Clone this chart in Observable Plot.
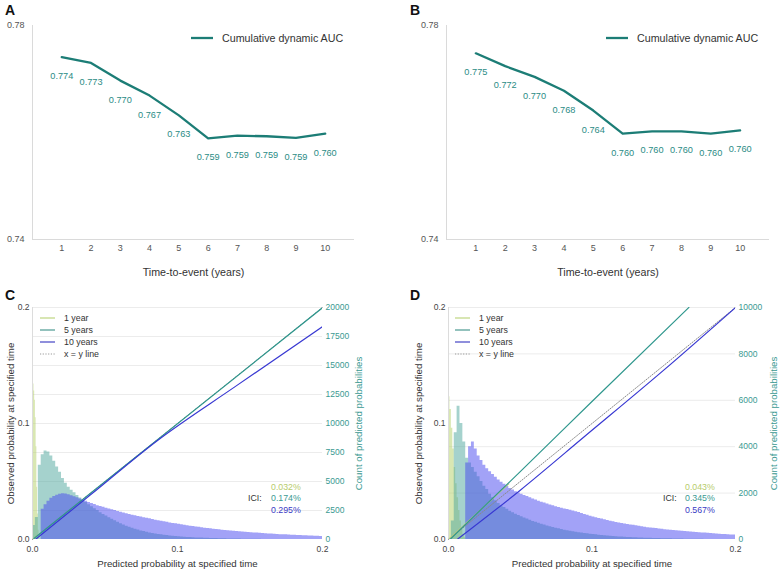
<!DOCTYPE html>
<html><head><meta charset="utf-8">
<script src="https://cdn.jsdelivr.net/npm/d3@7"></script>
<script src="https://cdn.jsdelivr.net/npm/@observablehq/plot@0.6"></script>
<style>
body{margin:0;background:#fff;font-family:"Liberation Sans",Arial,sans-serif;}
#root{position:relative;width:780px;height:572px;overflow:hidden;background:#fff;}
.panel{position:absolute;}
.lbl{position:absolute;font-weight:bold;font-size:14px;color:#111;line-height:1;}
.t{position:absolute;white-space:nowrap;line-height:1;transform:translateY(-50%);}
.sw{position:absolute;}
</style></head><body><div id="root"></div>
<script>
// ---------- data ----------
const years = [1,2,3,4,5,6,7,8,9,10];
const aucA = [0.7741,0.7730,0.7697,0.7669,0.7632,0.7589,0.7594,0.7593,0.7590,0.7598];
const aucB = [0.7748,0.7724,0.7704,0.7678,0.7641,0.7598,0.7602,0.7602,0.7598,0.7604];
const aucTicks = [0.74, 0.78];
const probTicks = [0, 0.1, 0.2];
const countTicksC = [0,2500,5000,7500,10000,12500,15000,17500,20000];
const countTicksD = [0,2000,4000,6000,8000,10000];
const seriesNames = ["1 year","5 years","10 years","x = y line"];
const iciC = ["0.032%","0.174%","0.295%"];
const iciD = ["0.043%","0.345%","0.567%"];

// histogram bin widths (probability units)
const binC1 = 0.0005, binD1 = 0.001, binW = 0.002;
// counts per bin, panel C
const histC1 = [13600,13400,12800,12000,10500,8000,4500,2200,800];
const histC5 = [1200,1900,6400,7300,7630,7550,7200,6750,6250,5800,5250,4850,4500,4250,4020,3800,3580,3370,3180,3000,2820,2650,2490,2300,2160,2020,1880,1750,1620,1480,1360,1250,1150,1050,960,880,810,740,680,620,570,520,475,435,400,365,335,305,280,255,235,215,195,180,165,150,140,130,120,110,100,92,84,76,70,64,58,53,48,44,40,36,32,28,25,22,19,16,13,10,8,6,4,3];
const histC10 = [0,0,0,2600,3000,3300,3550,3700,3820,3900,3940,3920,3860,3780,3690,3600,3500,3400,3300,3200,3100,3010,2920,2840,2770,2700,2640,2560,2490,2420,2350,2290,2220,2160,2100,2040,1990,1930,1880,1830,1780,1720,1670,1620,1570,1520,1480,1430,1390,1350,1310,1270,1230,1190,1150,1110,1080,1050,1010,980,950,920,890,860,830,800,780,750,730,710,690,670,650,630,610,590,570,550,530,510,500,480,470,450,440,420,410,400,390,375,365,350,340,330,320,305,295,285,275,265];
// counts per bin, panel D
const histD1 = [6150,5600,4800,3900,3100,2400,1800,1250,800,450,220,80];
const histD5 = [0,800,4600,5740,5000,4200,3500,3300,3100,2900,2700,2500,2300,2150,1950,1800,1670,1550,1440,1380,1300,1220,1150,1090,1030,980,930,880,830,780,740,700,660,620,580,550,520,490,460,430,400,380,355,335,315,295,275,260,245,230,215,200,185,170,160,150,140,130,120,112,105,98,90,84,78,72,67,62,58,54,50,46,43,40,37,34,31,28,25,22,20,18,16,14,12,10,8,7,6,5];
const histD10 = [0,0,0,0,0,0,3300,4000,4200,3900,3600,3400,3200,3050,2920,2800,2680,2570,2470,2380,2280,2200,2130,2060,2000,1950,1900,1850,1800,1750,1700,1650,1610,1570,1530,1490,1450,1410,1380,1350,1320,1290,1260,1230,1200,1160,1120,1080,1040,1000,970,940,910,880,850,820,790,760,730,710,690,670,650,630,610,590,570,550,530,510,495,480,470,455,440,425,410,400,390,375,365,355,345,335,325,315,305,295,285,275,265,255,245,235,225,220,212,205,198,190];

// calibration curves (predicted x, observed y)
const calC1x = [0, 0.003], calC1y = [0, 0.003];
const calC5x = [0.001, 0.2], calC5y = [0.0009, 0.1998];
const calC10x = [0.002, 0.04, 0.086, 0.14, 0.2], calC10y = [0.0, 0.0385, 0.0852, 0.132, 0.1835];
const calD1x = [0, 0.042], calD1y = [0, 0.048];
const calD5x = [0.001, 0.05, 0.1, 0.1675], calD5y = [0.0, 0.0585, 0.119, 0.2];
const calD10x = [0.006, 0.05, 0.095, 0.15, 0.2], calD10y = [0.0, 0.0425, 0.089, 0.146, 0.2];
const diagX = [0, 0.2], diagY = [0, 0.2];

// ---------- styling ----------
const FONT = "Liberation Sans, Arial, sans-serif";
const aucColor = "#1c7d76", aucText = "#2b8b85";
const c1 = "#b3cf66", c5 = "#4ba59c", c10 = "#4646f0";
const l1 = "#b9c97e", l5 = "#2f978d", l10 = "#3838d2";
const tealText = "#3b9a92";
const iciColors = ["#b7cc6c", "#3b9a92", "#3a3ac4"];
const legendColors = ["#cfe0a0", "#79b3ad", "#7474d4", "#999"];

const root = document.getElementById("root");
function place(node, left, top) {
  const d = document.createElement("div");
  d.className = "panel"; d.style.left = left + "px"; d.style.top = top + "px";
  d.appendChild(node); root.appendChild(d); return d;
}
function html(cls, text, left, top, css) {
  const s = document.createElement("div");
  s.className = cls; s.textContent = text;
  s.style.left = left + "px"; s.style.top = top + "px";
  Object.assign(s.style, css || {});
  root.appendChild(s); return s;
}
function swatch(left, top, w, color, thick, dash) {
  const ns = "http://www.w3.org/2000/svg";
  const svg = document.createElementNS(ns, "svg");
  svg.setAttribute("width", w); svg.setAttribute("height", 6);
  svg.setAttribute("class", "sw");
  svg.style.left = left + "px"; svg.style.top = (top - 3) + "px"; svg.style.position = "absolute";
  const ln = document.createElementNS(ns, "line");
  ln.setAttribute("x1", 0); ln.setAttribute("x2", w); ln.setAttribute("y1", 3); ln.setAttribute("y2", 3);
  ln.setAttribute("stroke", color); ln.setAttribute("stroke-width", thick);
  if (dash) ln.setAttribute("stroke-dasharray", dash);
  svg.appendChild(ln); root.appendChild(svg);
}

// ---------- panels A & B ----------
function aucPanel(vals, mL, mR) {
  const data = years.map((t, i) => ({t, v: vals[i]}));
  return Plot.plot({
    width: 390, height: 285, marginLeft: mL, marginRight: mR, marginTop: 25, marginBottom: 46,
    style: {background: "transparent", fontFamily: FONT, overflow: "visible"},
    x: {domain: [0, 11]}, y: {domain: [0.74, 0.78]},
    marks: [
      Plot.ruleX([0], {stroke: "#dadada"}),
      Plot.ruleY([0.74], {stroke: "#dadada"}),
      Plot.axisY(aucTicks, {tickSize: 0, tickPadding: 8, tickFormat: d3.format(".2f"), fontSize: 9, color: "#555", label: null}),
      Plot.axisX(years, {tickSize: 0, tickPadding: 5, fontSize: 9, color: "#555", label: null}),
      Plot.text(["Time-to-event (years)"], {text: d => d, frameAnchor: "bottom", dy: 36, fontSize: 10.7, fill: "#333"}),
      Plot.line(data, {x: "t", y: "v", stroke: aucColor, strokeWidth: 2.3}),
      Plot.text(data, {x: "t", y: "v", text: d => d3.format(".3f")(d.v), dy: 19, fontSize: 9.2, fill: aucText})
    ]
  });
}
place(aucPanel(aucA, 32, 36), 0, 0);
place(aucPanel(aucB, 56, 11), 390, 0);
html("lbl", "A", 5, 3);
html("lbl", "B", 410, 3);
swatch(191, 38, 22, aucColor, 2.3);
html("t", "Cumulative dynamic AUC", 222, 38, {fontSize: "10.7px", color: "#333"});
swatch(606, 38, 22, aucColor, 2.3);
html("t", "Cumulative dynamic AUC", 637, 38, {fontSize: "10.7px", color: "#333"});

// ---------- panels C & D ----------
function steps(counts, w) {
  const pts = counts.map((c, i) => ({x: i * w, c}));
  pts.push({x: counts.length * w, c: counts[counts.length - 1]});
  return pts;
}
function pts(xs, ys) { return xs.map((x, i) => ({x, y: ys[i]})); }

function histPanel(cfg) {
  return Plot.plot({
    width: 390, height: 292, marginLeft: cfg.mL, marginRight: cfg.mR, marginTop: 27, marginBottom: 33,
    style: {background: "transparent", fontFamily: FONT, overflow: "visible"},
    x: {domain: [0, 0.2], axis: null}, y: {domain: [0, cfg.countMax]},
    marks: [
      Plot.ruleY(cfg.countTicks.filter(d => d > 0), {stroke: "#ececec"}),
      Plot.areaY(steps(cfg.h1, cfg.w1), {x: "x", y: "c", curve: "step-after", fill: c1, fillOpacity: 0.5, clip: true}),
      Plot.areaY(steps(cfg.h5, binW), {x: "x", y: "c", curve: "step-after", fill: c5, fillOpacity: 0.5, clip: true}),
      Plot.areaY(steps(cfg.h10, binW), {x: "x", y: "c", curve: "step-after", fill: c10, fillOpacity: 0.5, clip: true}),
      Plot.axisY(cfg.countTicks, {anchor: "right", tickSize: 0, tickPadding: 3, fontSize: 8.5, color: tealText, tickFormat: d => String(d), label: null}),
      Plot.text(["Count of predicted probabilities"], {text: d => d, frameAnchor: "right", textAnchor: "middle", rotate: -90, dx: cfg.rtDx, fontSize: 9.7, fill: tealText})
    ]
  });
}
function linePanel(cfg) {
  return Plot.plot({
    width: 390, height: 292, marginLeft: cfg.mL, marginRight: cfg.mR, marginTop: 27, marginBottom: 33,
    style: {background: "transparent", fontFamily: FONT, overflow: "visible"},
    x: {domain: [0, 0.2]}, y: {domain: [0, 0.2]},
    marks: [
      Plot.ruleX([0], {stroke: "#dcdcdc"}),
      Plot.axisY(probTicks, {tickSize: 0, tickPadding: 3, tickFormat: d3.format(".1f"), fontSize: 8.5, color: "#444", label: null}),
      Plot.axisX(probTicks, {tickSize: 0, tickPadding: 6, tickFormat: d3.format(".1f"), fontSize: 8.5, color: "#444", label: null}),
      Plot.text(["Predicted probability at specified time"], {text: d => d, frameAnchor: "bottom", dy: 27, fontSize: 9.7, fill: "#333"}),
      Plot.text(["Observed probability at specified time"], {text: d => d, frameAnchor: "left", textAnchor: "middle", rotate: -90, dx: cfg.ltDx, fontSize: 9.7, fill: "#333"}),
      Plot.line(pts(diagX, diagY), {x: "x", y: "y", stroke: "#8a8a8a", strokeWidth: 1, strokeDasharray: "1.2,1.5"}),
      Plot.line(pts(cfg.k1x, cfg.k1y), {x: "x", y: "y", stroke: l1, strokeWidth: 1.2, clip: true}),
      Plot.line(pts(cfg.k5x, cfg.k5y), {x: "x", y: "y", stroke: l5, strokeWidth: 1.2, curve: "monotone-x", clip: true}),
      Plot.line(pts(cfg.k10x, cfg.k10y), {x: "x", y: "y", stroke: l10, strokeWidth: 1.2, curve: "monotone-x", clip: true})
    ]
  });
}
const cfgC = {mL: 32, mR: 68, countMax: 20000, countTicks: countTicksC, h1: histC1, w1: binC1, h5: histC5, h10: histC10, rtDx: 36, ltDx: -22,
  k1x: calC1x, k1y: calC1y, k5x: calC5x, k5y: calC5y, k10x: calC10x, k10y: calC10y};
const cfgD = {mL: 58, mR: 45, countMax: 10000, countTicks: countTicksD, h1: histD1, w1: binD1, h5: histD5, h10: histD10, rtDx: 38, ltDx: -30,
  k1x: calD1x, k1y: calD1y, k5x: calD5x, k5y: calD5y, k10x: calD10x, k10y: calD10y};

place(histPanel(cfgC), 0, 280);
place(linePanel(cfgC), 0, 280);
place(histPanel(cfgD), 390, 280);
place(linePanel(cfgD), 390, 280);
html("lbl", "C", 5, 288);
html("lbl", "D", 410, 288);

function legend(x0) {
  const ys = [317.7, 330, 342.3, 354.3];
  seriesNames.forEach((name, i) => {
    swatch(x0, ys[i], 15, legendColors[i], i === 3 ? 1 : 1.6, i === 3 ? "1.2,1.5" : null);
    html("t", name, x0 + 24, ys[i], {fontSize: "8.8px", color: "#333"});
  });
}
legend(40); legend(455);

function ici(vals, xIci, xVal) {
  const ys = [486.7, 498.3, 510];
  html("t", "ICI:", xIci, ys[1], {fontSize: "8.8px", color: "#333"});
  vals.forEach((v, i) => html("t", v, xVal, ys[i], {fontSize: "8.8px", color: iciColors[i]}));
}
ici(iciC, 248, 271);
ici(iciD, 663, 685);
</script>
</body></html>
